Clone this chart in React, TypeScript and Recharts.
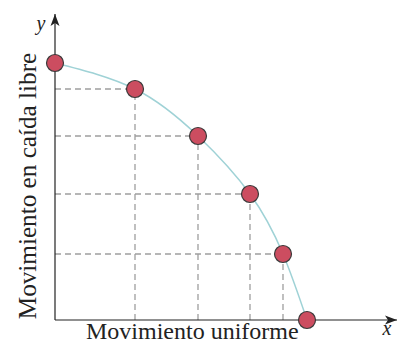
import React from 'react';
import { ComposedChart, Line, XAxis, YAxis, ReferenceLine, ReferenceDot, Label } from 'recharts';

// Horizontal (uniform motion) positions and vertical (free fall) heights
const xs = [0, 80, 143, 195, 228, 252];
const ys = [257, 231, 184, 126, 66, 0];
const xLabel = 'Movimiento uniforme';
const yLabel = 'Movimiento en caída libre';
const xName = 'x';
const yName = 'y';

const data = xs.map((x, i) => ({ x, y: ys[i] }));
const X_MAX = 342;
const Y_MAX = 306;

const DOT_FILL = '#cc4d60';
const DOT_STROKE = '#3a3a3a';
const CURVE = '#9fd2d6';
const DASH = '#9e9e9e';
const SERIF = '"Liberation Serif", "Times New Roman", serif';

const Dot = (props: any) => {
  const { cx, cy } = props;
  if (cx == null || cy == null) return null;
  return <circle cx={cx} cy={cy} r={8.5} fill={DOT_FILL} stroke={DOT_STROKE} strokeWidth={1.2} />;
};

const ArrowRight = (props: any) => {
  const { cx, cy } = props;
  return <polygon points={`${cx},${cy} ${cx - 12},${cy - 4.5} ${cx - 9},${cy} ${cx - 12},${cy + 4.5}`} fill="#222" />;
};
const ArrowUp = (props: any) => {
  const { cx, cy } = props;
  return <polygon points={`${cx},${cy} ${cx - 4.5},${cy + 12} ${cx},${cy + 9} ${cx + 4.5},${cy + 12}`} fill="#222" />;
};

export default function App() {
  return (
    <div style={{ position: 'absolute', left: 0, top: 0, width: 404, height: 343, background: '#fff' }}>
      <ComposedChart width={404} height={343} data={data} margin={{ top: 14, right: 7, bottom: 0, left: 0 }}>
        <XAxis
          type="number"
          dataKey="x"
          domain={[0, X_MAX]}
          ticks={[]}
          tick={false}
          tickLine={false}
          axisLine={{ stroke: '#222', strokeWidth: 1.2 }}
          height={23}
        >
          <Label
            content={(p: any) => {
              const vb = p.viewBox || { x: 55, y: 320 };
              return (
                <g>
                  <text x={vb.x + 31} y={vb.y + 18.5} fontFamily={SERIF} fontSize={24} fill="#222">{xLabel}</text>
                  <text x={vb.x + 332} y={vb.y + 15} fontFamily={SERIF} fontStyle="italic" fontSize={20} fill="#222" textAnchor="middle">{xName}</text>
                </g>
              );
            }}
          />
        </XAxis>
        <YAxis
          type="number"
          dataKey="y"
          domain={[0, Y_MAX]}
          ticks={[]}
          tick={false}
          tickLine={false}
          axisLine={{ stroke: '#222', strokeWidth: 1.2 }}
          width={55}
        >
          <Label
            content={(p: any) => {
              const vb = p.viewBox || { x: 0, y: 14, width: 55, height: 306 };
              return (
                <g>
                  <text
                    x={0}
                    y={0}
                    transform={`translate(${vb.x + 36}, ${vb.y + 172}) rotate(-90)`}
                    fontFamily={SERIF}
                    fontSize={25.2}
                    fill="#222"
                    textAnchor="middle"
                  >
                    {yLabel}
                  </text>
                  <text x={vb.x + 41} y={vb.y + 16} fontFamily={SERIF} fontStyle="italic" fontSize={20} fill="#222" textAnchor="middle">{yName}</text>
                </g>
              );
            }}
          />
        </YAxis>
        {data.slice(1, data.length - 1).map((d, i) => (
          <ReferenceLine
            key={'h' + i}
            segment={[{ x: 0, y: d.y }, { x: d.x, y: d.y }]}
            stroke={DASH}
            strokeWidth={1.3}
            strokeDasharray="6 4"
          />
        ))}
        {data.slice(1, data.length - 1).map((d, i) => (
          <ReferenceLine
            key={'v' + i}
            segment={[{ x: d.x, y: 0 }, { x: d.x, y: d.y }]}
            stroke={DASH}
            strokeWidth={1.3}
            strokeDasharray="6 4"
          />
        ))}
        <ReferenceDot x={X_MAX} y={0} r={0} shape={ArrowRight} ifOverflow="visible" />
        <ReferenceDot x={0} y={Y_MAX} r={0} shape={ArrowUp} ifOverflow="visible" />
        <Line
          type="natural"
          dataKey="y"
          stroke={CURVE}
          strokeWidth={1.5}
          dot={<Dot />}
          activeDot={false}
          isAnimationActive={false}
        />
      </ComposedChart>
    </div>
  );
}
